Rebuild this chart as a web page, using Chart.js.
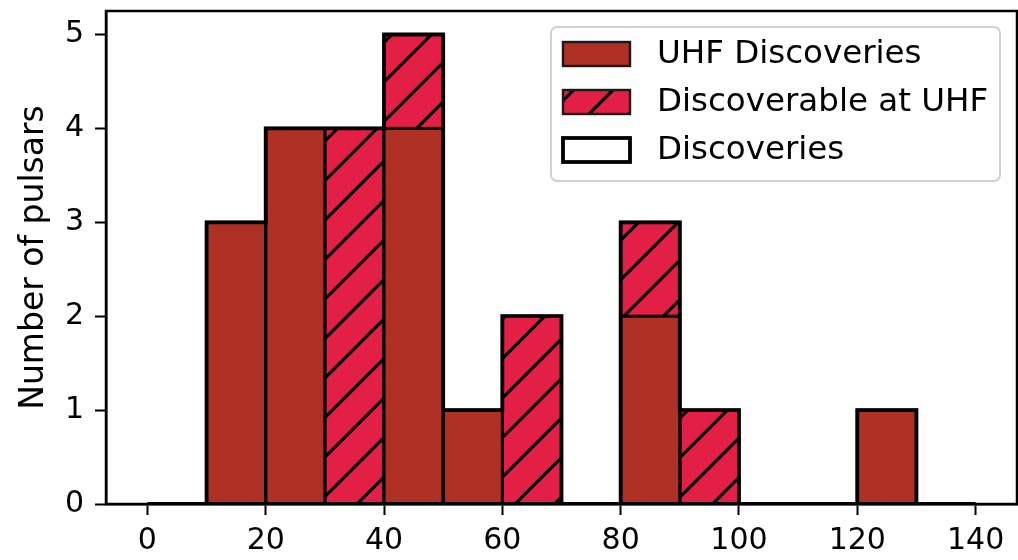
<!DOCTYPE html>
<html>
<head>
<meta charset="utf-8">
<script src="https://cdn.jsdelivr.net/npm/chart.js@4.4.1/dist/chart.umd.min.js"></script>
<style>
  html, body { margin: 0; padding: 0; background: #ffffff; }
  #wrap { width: 1018px; height: 560px; }
</style>
</head>
<body>
<div id="wrap"><canvas id="chart" width="1018" height="560"></canvas></div>
<script>
// Histogram bins (edges) and counts per bin
const binEdges = [0, 10, 20, 30, 40, 50, 60, 70, 80, 90, 100, 110, 120, 130, 140];
const uhfDiscoveries    = [0, 3, 4, 0, 4, 1, 0, 0, 2, 0, 0, 0, 1, 0];
const discoverableAtUhf = [0, 0, 0, 4, 5, 0, 2, 0, 3, 1, 0, 0, 0, 0];
const discoveries       = [0, 3, 4, 4, 5, 1, 2, 0, 3, 1, 0, 0, 1, 0];
const xTickValues = [0, 20, 40, 60, 80, 100, 120, 140];
const yTickValues = [0, 1, 2, 3, 4, 5];
const seriesLabels = ['UHF Discoveries', 'Discoverable at UHF', 'Discoveries'];
const yAxisTitle = 'Number of pulsars';

const FONT = 'DejaVu Sans';
const UHF_COLOR = '#AF3025';
const DISC_COLOR = '#E31F45';
const EDGE_W = 3;
const STEP_W = 3.8;
const SPINE_W = 2.5;
const HATCH = { spacing: 39.5, phase: 466, width: 3.2 };

// bar points sit at the bin centres
function binned(counts) {
  return counts.map((v, i) => ({ x: (binEdges[i] + binEdges[i + 1]) / 2, y: v }));
}
// outline of a step histogram
function stepOutline(counts) {
  const pts = [{ x: binEdges[0], y: 0 }];
  counts.forEach((v, i) => pts.push({ x: binEdges[i + 1], y: v }));
  pts.push({ x: binEdges[binEdges.length - 1], y: 0 });
  return pts;
}

function drawHatch(ctx, x0, y0, w, h) {
  ctx.save();
  ctx.beginPath();
  ctx.rect(x0, y0, w, h);
  ctx.clip();
  ctx.strokeStyle = '#000';
  ctx.lineWidth = HATCH.width;
  ctx.beginPath();
  const sMin = x0 + y0, sMax = x0 + w + y0 + h;
  const k = Math.floor((sMin - HATCH.phase) / HATCH.spacing) - 1;
  for (let s = HATCH.phase + k * HATCH.spacing; s <= sMax + HATCH.spacing; s += HATCH.spacing) {
    ctx.moveTo(s - (y0 - 5), y0 - 5);
    ctx.lineTo(s - (y0 + h + 5), y0 + h + 5);
  }
  ctx.stroke();
  ctx.restore();
}

const histogramStyle = {
  id: 'histogramStyle',
  afterDatasetDraw(chart, args) {
    const ds = chart.data.datasets[args.index];
    if (ds.type === 'line') return;
    const ctx = chart.ctx;
    ctx.save();
    args.meta.data.forEach((el, i) => {
      if (!ds.data[i].y) return;
      const { x, y, base, width } = el.getProps(['x', 'y', 'base', 'width'], true);
      const left = x - width / 2;
      if (ds.hatched) drawHatch(ctx, left, y, width, base - y);
      ctx.lineWidth = EDGE_W;
      ctx.strokeStyle = '#000';
      ctx.strokeRect(left, y, width, base - y);
    });
    ctx.restore();
  },
  afterDatasetsDraw(chart) {
    const { ctx, chartArea: a } = chart;
    ctx.save();
    ctx.lineWidth = SPINE_W;
    ctx.strokeStyle = '#000';
    ctx.strokeRect(a.left, a.top, a.right - a.left, a.bottom - a.top);
    ctx.restore();
  },
  afterDraw(chart) {
    const ctx = chart.ctx;
    const box = { x: 551, y: 27, w: 449, h: 154, r: 6 };
    ctx.save();
    ctx.beginPath();
    ctx.roundRect(box.x, box.y, box.w, box.h, box.r);
    ctx.fillStyle = 'rgba(255,255,255,0.8)';
    ctx.fill();
    ctx.lineWidth = 2;
    ctx.strokeStyle = '#d0d0d0';
    ctx.stroke();

    const rows = [54, 102, 150];
    const hx = 563, hw = 67, hh = 24;
    chart.data.datasets.forEach((ds, i) => {
      const cy = rows[i];
      const top = cy - hh / 2;
      if (ds.type === 'line') {
        ctx.fillStyle = '#fff';
        ctx.fillRect(hx, top, hw, hh);
        ctx.lineWidth = STEP_W;
        ctx.strokeStyle = '#000';
        ctx.strokeRect(hx, top, hw, hh);
      } else {
        ctx.fillStyle = ds.backgroundColor;
        ctx.fillRect(hx, top, hw, hh);
        if (ds.hatched) drawHatch(ctx, hx, top, hw, hh);
        ctx.lineWidth = 2.4;
        ctx.strokeStyle = '#1a1a1a';
        ctx.strokeRect(hx, top, hw, hh);
      }
      ctx.fillStyle = '#000';
      ctx.font = '32.5px "' + FONT + '"';
      ctx.textAlign = 'left';
      ctx.textBaseline = 'middle';
      ctx.fillText(ds.label, 657, cy + 1);
    });
    ctx.restore();
  }
};

const tickFont = { family: FONT, size: 30 };

new Chart(document.getElementById('chart'), {
  type: 'bar',
  data: {
    datasets: [
      {
        label: seriesLabels[0],
        data: binned(uhfDiscoveries),
        backgroundColor: UHF_COLOR,
        borderWidth: 0,
        grouped: false,
        barPercentage: 1,
        categoryPercentage: 1
      },
      {
        label: seriesLabels[1],
        data: binned(discoverableAtUhf),
        backgroundColor: DISC_COLOR,
        borderWidth: 0,
        grouped: false,
        barPercentage: 1,
        categoryPercentage: 1,
        hatched: true
      },
      {
        type: 'line',
        label: seriesLabels[2],
        data: stepOutline(discoveries),
        borderColor: '#000',
        borderWidth: STEP_W,
        stepped: 'after',
        pointRadius: 0,
        fill: false,
        borderJoinStyle: 'miter',
        borderCapStyle: 'butt',
        order: -1
      }
    ]
  },
  options: {
    responsive: false,
    devicePixelRatio: 1,
    animation: false,
    events: [],
    layout: { padding: { top: 11, right: 1, left: 0, bottom: 0 } },
    plugins: { legend: { display: false }, tooltip: { enabled: false } },
    scales: {
      x: {
        type: 'linear',
        min: -7,
        max: 147,
        offset: false,
        afterBuildTicks: s => { s.ticks = xTickValues.map(v => ({ value: v })); },
        afterFit: s => { s.height = 56; s.paddingLeft = 0; s.paddingRight = 0; },
        grid: { display: true, offset: false, drawOnChartArea: false, drawTicks: true, tickLength: 11, tickWidth: 2, tickColor: '#000', color: '#000' },
        border: { display: true, color: '#000', width: SPINE_W },
        ticks: { color: '#000', font: tickFont, padding: 8, maxRotation: 0, autoSkip: false, callback: v => String(v) }
      },
      y: {
        type: 'linear',
        min: 0,
        max: 5.25,
        afterBuildTicks: s => { s.ticks = yTickValues.map(v => ({ value: v })); },
        afterFit: s => { s.width = 106; s.paddingTop = 0; s.paddingBottom = 0; },
        grid: { display: true, drawOnChartArea: false, drawTicks: true, tickLength: 11, tickWidth: 2, tickColor: '#000', color: '#000' },
        border: { display: true, color: '#000', width: SPINE_W },
        ticks: { color: '#000', font: tickFont, padding: 11, callback: v => String(v) },
        title: { display: true, text: yAxisTitle, color: '#000', font: { family: FONT, size: 33 }, padding: { top: 15, bottom: 0 } }
      }
    }
  },
  plugins: [histogramStyle]
});
</script>
</body>
</html>
